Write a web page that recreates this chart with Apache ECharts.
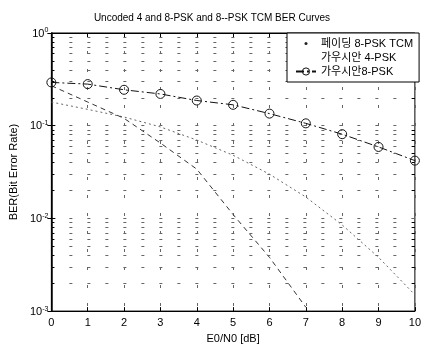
<!DOCTYPE html>
<html>
<head>
<meta charset="utf-8">
<script src="https://cdn.jsdelivr.net/npm/echarts@6/dist/echarts.min.js"></script>
<style>
html, body { margin: 0; padding: 0; background: #fff; }
#main { width: 424px; height: 349px; }
</style>
</head>
<body>
<div id="main"></div>
<script>
// values
var snr = [0, 1, 2, 3, 4, 5, 6, 7, 8, 9, 10];
var berTcm8psk = [0.18, 0.15, 0.124, 0.097, 0.07, 0.048, 0.03, 0.017, 0.0085, 0.0038, 0.0015];
var snr4psk = [0, 1, 2, 3, 4, 5, 6, 7];
var ber4psk = [0.27, 0.18, 0.12, 0.065, 0.034, 0.011, 0.0038, 0.0011];
var ber8psk = [0.293, 0.281, 0.244, 0.22, 0.187, 0.168, 0.135, 0.106, 0.081, 0.059, 0.042];
var names = ['페이딩 8-PSK TCM', '가우시안 4-PSK', '가우시안8-PSK'];

var FONT = '"Liberation Sans", "Noto Sans CJK KR", sans-serif';

function pairs(xs, ys) {
    return xs.map(function (x, i) { return [x, ys[i]]; });
}

// log minor grid (2..9 per decade), matlab style
var minorGrid = [];
var minorTicks = [];
for (var d = -3; d < 0; d++) {
    for (var k = 2; k <= 9; k++) {
        var v = k * Math.pow(10, d);
        minorGrid.push([{ coord: [0, v] }, { coord: [10, v] }]);
        minorTicks.push([{ coord: [0, v] }, { coord: [0.08, v] }]);
        minorTicks.push([{ coord: [9.92, v] }, { coord: [10, v] }]);
    }
}

var gridDash = { color: '#666', width: 1, type: [3, 15] };

var chart = echarts.init(document.getElementById('main'));
var option = {
    animation: false,
    textStyle: { fontFamily: FONT },
    title: {
        text: 'Uncoded 4 and 8-PSK and 8--PSK TCM BER Curves',
        left: 'center',
        top: 8,
        textStyle: { fontFamily: FONT, fontSize: 10, fontWeight: 'normal', color: '#000' }
    },
    grid: {
        left: 46, right: 3, top: 33, bottom: 33,
        show: true, borderColor: '#000', borderWidth: 1
    },
    legend: {
        orient: 'vertical',
        left: 287,
        top: 33,
        z: 20,
        padding: [4, 6, 4, 8],
        itemWidth: 20,
        itemHeight: 9,
        itemGap: 1,
        backgroundColor: '#fff',
        borderColor: '#000',
        borderWidth: 1,
        textStyle: { fontFamily: FONT, fontSize: 11, color: '#000', lineHeight: 13 },
        data: [
            { name: names[0], icon: 'path://M0,0M20,9M8.5,4.5a1.5,1.5 0 1,0 3,0a1.5,1.5 0 1,0 -3,0z', itemStyle: { color: '#222' } },
            { name: names[1], itemStyle: { opacity: 0 }, lineStyle: { opacity: 0 } },
            { name: names[2], itemStyle: { color: 'rgba(0,0,0,0)', borderColor: '#111', borderWidth: 1 } }
        ]
    },
    xAxis: [{
        type: 'value',
        min: 0, max: 10, interval: 1,
        name: 'E0/N0 [dB]',
        nameLocation: 'middle',
        nameGap: 20,
        nameTextStyle: { fontFamily: FONT, fontSize: 11, color: '#000' },
        axisLine: { lineStyle: { color: '#000' } },
        axisTick: { inside: true, length: 4, lineStyle: { color: '#000' } },
        axisLabel: { fontFamily: FONT, fontSize: 11, color: '#000', margin: 6 },
        splitLine: { show: true, lineStyle: gridDash }
    }, {
        type: 'value',
        position: 'top',
        min: 0, max: 10, interval: 1,
        axisLine: { lineStyle: { color: '#000' } },
        axisTick: { inside: true, length: 4, lineStyle: { color: '#000' } },
        axisLabel: { show: false },
        splitLine: { show: false }
    }],
    yAxis: [{
        type: 'log',
        logBase: 10,
        min: 0.001, max: 1,
        name: 'BER(Bit Error Rate)',
        nameLocation: 'middle',
        nameGap: 30,
        nameTextStyle: { fontFamily: FONT, fontSize: 11, color: '#000' },
        axisLine: { lineStyle: { color: '#000', width: 1.5 } },
        axisTick: { inside: true, length: 4, lineStyle: { color: '#000' } },
        axisLabel: {
            margin: 3,
            color: '#000',
            formatter: function (val) {
                var e = Math.round(Math.log(val) / Math.LN10);
                return '{b|10}{s|' + e + '}';
            },
            rich: {
                b: { fontFamily: FONT, fontSize: 11, verticalAlign: 'bottom', padding: [4, 0, 0, 0], lineHeight: 12 },
                s: { fontFamily: FONT, fontSize: 7, verticalAlign: 'top', lineHeight: 8 }
            }
        },
        splitLine: { show: true, lineStyle: gridDash }
    }, {
        type: 'log',
        logBase: 10,
        position: 'right',
        min: 0.001, max: 1,
        axisLine: { lineStyle: { color: '#000' } },
        axisTick: { inside: true, length: 4, lineStyle: { color: '#000' } },
        axisLabel: { show: false },
        splitLine: { show: false }
    }],
    series: [
        {
            name: 'grid',
            type: 'line',
            data: [],
            silent: true,
            z: 1,
            markLine: {
                silent: true,
                symbol: ['none', 'none'],
                label: { show: false },
                lineStyle: gridDash,
                data: minorGrid
            }
        },
        {
            name: 'ticks',
            type: 'line',
            data: [],
            silent: true,
            z: 1,
            markLine: {
                silent: true,
                symbol: ['none', 'none'],
                label: { show: false },
                lineStyle: { color: '#000', width: 1, type: 'solid' },
                data: minorTicks
            }
        },
        {
            name: names[0],
            type: 'line',
            data: pairs(snr, berTcm8psk),
            symbol: 'none',
            color: '#666',
            lineStyle: { color: '#666', width: 1, type: [2, 3] },
            z: 3
        },
        {
            name: names[1],
            type: 'line',
            data: pairs(snr4psk, ber4psk),
            symbol: 'none',
            color: '#333',
            lineStyle: { color: '#333', width: 1, type: [5, 4] },
            z: 3
        },
        {
            name: names[2],
            type: 'line',
            data: pairs(snr, ber8psk),
            symbol: 'circle',
            symbolSize: 9,
            showSymbol: true,
            color: '#111',
            itemStyle: { color: 'rgba(0,0,0,0)', borderColor: '#111', borderWidth: 1 },
            lineStyle: { color: '#111', width: 1, type: [8, 3, 2, 3] },
            z: 4
        }
    ]
};
chart.setOption(option);
</script>
</body>
</html>
